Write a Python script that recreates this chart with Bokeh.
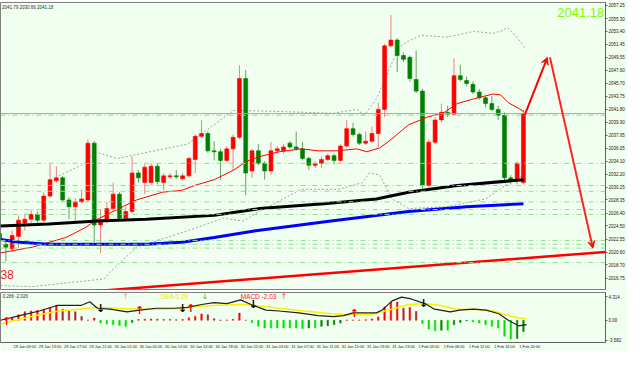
from bokeh.plotting import figure
from bokeh.layouts import column
from bokeh.models import Range1d, FixedTicker, Label, Span, Arrow, VeeHead
from bokeh.embed import file_html
from bokeh.resources import INLINE
from bokeh.core.properties import value

# ---------------- data ----------------
bars = list(range(-2, 82))
opens = [2023.35, 2021.77, 2021.06, 2022.92, 2024.92, 2025.49, 2026.21, 2025.35, 2028.93, 2031.21,
         2031.64, 2028.35, 2027.35, 2028.07, 2028.35, 2036.79, 2024.63, 2025.21, 2027.07, 2029.21,
         2025.64, 2026.64, 2032.36, 2030.93, 2030.93, 2033.36, 2030.93, 2031.79, 2031.93, 2031.50,
         2031.93, 2034.36, 2037.80, 2038.22, 2035.65, 2035.51, 2034.22, 2035.94, 2037.65, 2046.38,
         2032.65, 2035.65, 2033.79, 2032.65, 2035.65, 2035.65, 2036.79, 2036.22, 2035.94, 2034.51,
         2033.50, 2033.79, 2034.36, 2034.93, 2034.22, 2036.36, 2038.94, 2038.08, 2036.79, 2037.08,
         2038.22, 2041.80, 2051.24, 2052.10, 2049.81, 2049.53, 2046.24, 2044.52, 2030.50, 2036.94,
         2040.23, 2041.37, 2041.09, 2046.81, 2046.09, 2045.52, 2044.38, 2043.52, 2042.66, 2041.80,
         2040.94, 2031.64, 2031.21, 2030.93]
highs = [2023.78, 2022.34, 2023.78, 2026.06, 2026.35, 2026.92, 2026.64, 2029.50, 2033.65, 2033.36,
         2031.93, 2028.78, 2028.64, 2029.93, 2037.37, 2037.08, 2026.92, 2028.07, 2030.93, 2029.50,
         2027.35, 2034.79, 2032.79, 2033.79, 2033.79, 2033.79, 2032.36, 2032.36, 2032.79, 2032.36,
         2034.79, 2038.08, 2040.23, 2038.51, 2037.08, 2035.94, 2036.36, 2038.08, 2048.38, 2047.67,
         2035.94, 2036.65, 2034.08, 2036.94, 2036.36, 2036.65, 2037.08, 2038.51, 2036.94, 2034.79,
         2034.08, 2034.79, 2035.22, 2035.22, 2036.65, 2040.23, 2039.80, 2038.37, 2038.51, 2039.23,
         2042.80, 2051.53, 2055.82, 2052.39, 2050.24, 2049.81, 2050.53, 2044.81, 2037.37, 2040.66,
         2042.66, 2042.37, 2049.38, 2048.38, 2046.67, 2045.95, 2044.81, 2043.80, 2043.80, 2042.37,
         2041.37, 2032.07, 2034.08, 2041.79]
lows = [2022.06, 2019.20, 2020.63, 2021.20, 2023.78, 2024.92, 2024.63, 2024.92, 2028.64, 2030.93,
        2028.07, 2025.49, 2025.21, 2027.78, 2028.07, 2022.06, 2020.49, 2024.92, 2026.78, 2025.21,
        2025.21, 2026.35, 2030.93, 2029.21, 2030.50, 2030.64, 2029.78, 2031.50, 2031.50, 2031.21,
        2031.64, 2032.36, 2037.51, 2035.36, 2034.22, 2031.36, 2033.93, 2032.79, 2037.37, 2029.07,
        2031.64, 2033.50, 2031.36, 2032.07, 2035.36, 2035.22, 2035.94, 2035.65, 2034.22, 2032.79,
        2033.07, 2033.07, 2034.08, 2033.65, 2033.93, 2036.08, 2037.80, 2036.51, 2036.51, 2036.79,
        2036.22, 2040.66, 2050.96, 2047.38, 2048.81, 2045.95, 2044.23, 2030.07, 2030.21, 2036.65,
        2039.80, 2040.66, 2040.94, 2045.95, 2045.23, 2044.09, 2043.23, 2042.09, 2041.52, 2040.23,
        2030.93, 2030.64, 2030.64, 2030.66]
closes = [2022.63, 2021.34, 2023.06, 2025.35, 2025.49, 2026.21, 2025.35, 2028.93, 2031.36, 2031.64,
          2028.35, 2027.35, 2028.07, 2028.50, 2036.79, 2024.63, 2025.35, 2027.07, 2029.21, 2025.64,
          2026.64, 2032.36, 2031.64, 2033.22, 2033.36, 2031.07, 2031.93, 2031.93, 2031.79, 2031.93,
          2034.51, 2037.80, 2038.22, 2035.65, 2035.51, 2034.22, 2035.94, 2037.65, 2046.38, 2032.36,
          2035.65, 2033.79, 2032.65, 2035.65, 2035.94, 2036.22, 2036.22, 2035.94, 2034.51, 2033.50,
          2033.79, 2034.36, 2034.93, 2034.22, 2036.36, 2038.94, 2038.08, 2036.79, 2037.08, 2038.22,
          2041.80, 2051.24, 2052.10, 2049.81, 2049.24, 2046.38, 2044.52, 2030.50, 2036.94, 2040.23,
          2041.37, 2041.09, 2046.81, 2046.24, 2045.66, 2044.38, 2043.52, 2042.66, 2041.80, 2040.94,
          2031.64, 2031.21, 2033.79, 2041.18]

ma_red_x = [-1.85, 3.2, 8.5, 11.5, 13.5, 16.6, 19.7, 23.8, 26.9, 28.9, 32.0, 35.1, 37.1, 39.2, 42.3,
            45.8, 48.5, 51.5, 54.6, 56.2, 58.2, 59.7, 62.8, 65.8, 68.5, 70.5, 73.1, 76.2, 77.4, 78.6,
            80.8, 81.0]
ma_red_y = [2020.49, 2021.34, 2022.77, 2024.20, 2025.49, 2026.92, 2028.35, 2029.50, 2029.78, 2030.50,
            2031.36, 2032.79, 2034.08, 2034.79, 2035.51, 2035.94, 2035.65, 2035.65, 2035.94, 2035.51,
            2036.08, 2037.08, 2039.51, 2040.66, 2041.37, 2042.66, 2043.37, 2044.09, 2043.95, 2042.80,
            2041.66, 2041.40]
ma_black_x = [-1.85, 5.8, 13.5, 21.2, 32.0, 39.2, 49.4, 57.7, 62.8, 70.5, 81.0]
ma_black_y = [2024.49, 2024.78, 2025.21, 2025.49, 2026.06, 2027.07, 2027.78, 2028.50, 2029.50,
              2030.50, 2031.36]
ma_blue_x = [-1.85, 1.2, 5.8, 21.2, 26.9, 32.0, 38.6, 50.5, 62.8, 72.0, 81.0]
ma_blue_y = [2022.49, 2022.06, 2021.77, 2021.77, 2022.06, 2022.77, 2023.78, 2025.21, 2026.64,
             2027.35, 2027.78]
bb_up_x = [7.4, 11.5, 13.1, 16.6, 27.8, 35.1, 41.2, 50.9, 54.6, 55.8, 57.7, 59.7, 61.2, 62.8, 64.8,
           68.9, 73.1, 76.2, 77.7, 78.5, 79.7, 81.2]
bb_up_y = [2031.93, 2033.79, 2035.51, 2034.51, 2036.65, 2041.66, 2041.52, 2041.23, 2041.80, 2040.94,
           2043.37, 2047.67, 2050.96, 2051.96, 2052.81, 2052.53, 2053.39, 2053.10, 2053.53, 2053.96,
           2052.81, 2050.96]
bb_lo_x = [-1.85, 3.2, 14.6, 15.5, 19.7, 27.8, 33.5, 36.6, 39.2, 45.8, 51.8, 55.5, 56.6, 58.2, 60.2,
           62.8, 68.9, 75.0, 79.7, 81.2]
bb_lo_y = [2015.62, 2015.48, 2016.62, 2017.62, 2021.34, 2023.78, 2025.64, 2025.21, 2026.64, 2029.93,
           2029.93, 2030.93, 2032.36, 2032.07, 2028.50, 2027.07, 2027.35, 2028.50, 2031.50, 2032.00]
support_levels = [2040.94, 2033.79, 2030.50, 2029.64, 2028.07, 2026.92, 2026.21, 2022.34, 2021.77,
                  2021.20, 2019.05]
trend_x = [12.5, 94.0]
trend_y = [2014.76, 2020.63]
up_arrow = (81.2, 2040.94, 84.8, 2049.53)
down_arrow = (85.2, 2049.53, 92.0, 2021.20)
last_price = 2041.18

price_ticks = [2057.25, 2055.30, 2053.40, 2051.45, 2049.55, 2047.60, 2045.70, 2043.75, 2041.80,
               2039.90, 2037.95, 2036.05, 2034.10, 2032.20, 2030.25, 2028.35, 2026.40, 2024.50,
               2022.55, 2020.60, 2018.70, 2016.75, 2014.85]
time_tick_bars = [0, 4, 8, 12, 16, 20, 24, 28, 32, 36, 40, 44, 48, 52, 56, 60, 64, 68, 72, 76, 80]
time_labels = ["29 Jan 09:00", "29 Jan 13:00", "29 Jan 17:00", "29 Jan 21:00", "30 Jan 01:00",
               "30 Jan 05:00", "30 Jan 10:00", "30 Jan 14:00", "30 Jan 18:00", "30 Jan 22:00",
               "31 Jan 03:00", "31 Jan 07:00", "31 Jan 11:00", "31 Jan 15:00", "31 Jan 19:00",
               "31 Jan 23:00", "1 Feb 03:00", "1 Feb 08:00", "1 Feb 12:00", "1 Feb 16:00",
               "1 Feb 20:00"]

macd_bars = list(range(-1, 82))
macd_hist = [0.2, 0.5, 1.0, 1.55, 1.7, 1.8, 2.0, 2.3, 2.7, 2.0, 1.7, 1.55, 0.7, 0.05, 0.4,
             -0.5, -0.67, -0.8, -0.95, -1.15, -0.4, 0.15, 0.2, 0.25, 0.2, 0.15, 0.15, 0.1, 0.15,
             0.45, 0.7, 1.15, 1.0, 0.3, 0.05, 0.05, 0.2, 1.3, 0.0, -0.45, -1.1, -1.4, -1.4, -1.4,
             -1.4, -1.4, -1.4, -1.5, -1.4, -1.4, -1.1, -1.0, -0.8, -0.5, 0.05, 0.05, 0.05, 0.1,
             0.25, 0.6, 2.4, 3.3, 3.3, 2.2, 2.3, 1.6, -0.6, -1.6, -1.9, -1.8, -1.8, -0.8, -0.4,
             -0.1, -0.3, -0.5, -0.8, -1.1, -1.4, -2.9, -3.4, -3.3, -2.03]
dif_x = [-1.85, 1.2, 4.3, 7.1, 8.9, 10.9, 12.3, 13.5, 15.5, 18.2, 20.2, 22.8, 25.8, 27.8, 30.0, 32.0,
         34.0, 36.2, 38.2, 40.2, 42.3, 45.4, 48.5, 50.9, 52.5, 54.0, 56.2, 57.7, 58.6, 60.2, 61.7,
         63.2, 65.4, 66.9, 69.4, 70.9, 73.1, 75.1, 77.1, 78.6, 80.2, 81.5]
dif_y = [0.0, 0.84, 1.68, 2.69, 2.69, 2.69, 3.36, 2.18, 2.02, 1.51, 1.85, 2.18, 2.18, 2.35, 2.86,
         3.19, 3.03, 3.70, 2.69, 1.85, 1.68, 1.34, 0.84, 0.67, 0.84, 1.34, 1.34, 1.34, 1.85, 3.53,
         4.20, 3.87, 3.03, 2.02, 1.51, 1.85, 2.02, 1.85, 1.18, 0.0, -1.0, -0.8]
dea_x = [-1.85, 1.2, 4.3, 7.4, 10.5, 13.5, 16.6, 20.2, 23.8, 26.9, 28.9, 32.0, 36.2, 38.6, 42.3,
         46.3, 50.5, 53.5, 56.6, 59.7, 62.8, 65.4, 67.8, 70.5, 73.1, 76.2, 78.2, 80.2, 81.5]
dea_y = [-0.67, 0.17, 1.01, 1.68, 2.02, 2.35, 2.18, 2.02, 2.02, 2.18, 2.52, 2.69, 2.86, 2.69, 2.18,
         1.68, 1.18, 1.01, 1.01, 1.85, 2.86, 3.03, 2.69, 2.02, 2.02, 1.68, 1.01, 0.40, 0.29]
cross_x = [-0.9, 14.0, 20.2, 27.0, 28.3, 38.2, 54.2, 65.2]
cross_y = [-0.3, 2.2, 1.85, 2.2, 2.2, 2.9, 1.2, 3.0]
cross_dir = ["up", "down", "up", "down", "up", "down", "up", "down"]
macd_ticks = [4.314, 0.0, -3.582]

# ---------------- style ----------------
BG = "#F0FFF0"
FONT = "Liberation Sans"
xr = Range1d(-1.85, 94.0)

p = figure(width=627, height=290, x_range=xr, y_range=Range1d(2015.05, 2057.68),
           output_backend="svg", toolbar_location=None, x_axis_location=None,
           y_axis_location="right", min_border_left=0, min_border_right=22,
           min_border_top=2, min_border_bottom=1)
p.background_fill_color = BG
p.border_fill_color = BG
p.outline_line_color = "#808080"
p.grid.visible = False
p.yaxis.ticker = FixedTicker(ticks=price_ticks)
p.yaxis.major_label_overrides = {t: f"{t:.2f}" for t in price_ticks}
p.yaxis.major_label_text_font_size = "4.5px"
p.yaxis.major_label_text_font = FONT
p.yaxis.major_label_text_color = "#202020"
p.yaxis.major_tick_out = 2
p.yaxis.major_tick_in = 0
p.yaxis.minor_tick_out = 0
p.yaxis.minor_tick_in = 0
p.yaxis.major_label_standoff = 1
p.yaxis.axis_line_color = "#606060"
p.yaxis.major_tick_line_color = "#606060"

for lv in support_levels:
    p.add_layout(Span(location=lv, dimension="width", line_color="#8BE08B",
                      line_dash="5 3 1 3", line_width=1))
p.add_layout(Span(location=last_price, dimension="width", line_color="#A8A8A8", line_width=1))

p.line(bb_up_x, bb_up_y, line_color="#A0A0A0", line_dash="2 2", line_width=1)
p.line(bb_lo_x, bb_lo_y, line_color="#A0A0A0", line_dash="2 2", line_width=1)

up = [c >= o for o, c in zip(opens, closes)]
body_top = [max(o, c) for o, c in zip(opens, closes)]
body_bot = [min(o, c) for o, c in zip(opens, closes)]
wick_col = ["#F08080" if u else "#5FA55F" for u in up]
body_col = ["#FF0000" if u else "#008000" for u in up]
p.segment(bars, highs, bars, lows, line_color=wick_col, line_width=1)
p.vbar(x=bars, top=body_top, bottom=body_bot, width=0.62, fill_color=body_col,
       line_color=body_col, line_width=0.6)

p.line(ma_red_x, ma_red_y, line_color="#FF0000", line_width=1)
p.line(ma_blue_x, ma_blue_y, line_color="#0000FF", line_width=3)
p.line(ma_black_x, ma_black_y, line_color="#000000", line_width=3)
p.line(trend_x, trend_y, line_color="#FF0000", line_width=2.5)

p.add_layout(Arrow(end=VeeHead(size=7, fill_color="#FF0000", line_color="#FF0000"),
                   x_start=up_arrow[0], y_start=up_arrow[1], x_end=up_arrow[2], y_end=up_arrow[3],
                   line_color="#FF0000", line_width=2))
p.add_layout(Arrow(end=VeeHead(size=7, fill_color="#FF0000", line_color="#FF0000"),
                   x_start=down_arrow[0], y_start=down_arrow[1], x_end=down_arrow[2],
                   y_end=down_arrow[3], line_color="#FF2020", line_width=2))

p.add_layout(Label(x=-1.6, y=2057.0, text="2041.79 2030.66 2041.18", text_font_size="4.5px",
                   text_font=FONT, text_color="#303030", text_baseline="middle"))
p.add_layout(Label(x=93.8, y=2056.2, text=f"{last_price:.2f}", text_font_size="13px",
                   text_font=FONT, text_color="#7CFC00", text_align="right",
                   text_baseline="middle"))
p.add_layout(Label(x=-1.85, y=2017.3, text="38", text_font_size="12px", text_font=FONT,
                   text_color="#FF2020", text_baseline="middle"))
p.add_layout(Label(x=94.05, y=last_price, text=f"{last_price:.2f}", text_font_size="4.5px",
                   text_font=FONT, text_color="white", background_fill_color="black",
                   text_baseline="middle", x_offset=1))

# ---------------- MACD panel ----------------
q = figure(width=627, height=61, x_range=xr, y_range=Range1d(-4.03, 5.04),
           output_backend="svg", toolbar_location=None, y_axis_location="right",
           min_border_left=0, min_border_right=22, min_border_top=2, min_border_bottom=0)
q.background_fill_color = BG
q.border_fill_color = BG
q.outline_line_color = "#808080"
q.grid.visible = False
q.yaxis.ticker = FixedTicker(ticks=macd_ticks)
q.yaxis.major_label_overrides = {4.314: "4.314", 0.0: "0.00", -3.582: "-3.582"}
for ax in (q.yaxis[0], q.xaxis[0]):
    ax.major_label_text_font_size = "4.5px"
    ax.major_label_text_font = FONT
    ax.major_label_text_color = "#202020"
    ax.major_tick_out = 2
    ax.major_tick_in = 0
    ax.minor_tick_out = 0
    ax.minor_tick_in = 0
    ax.major_label_standoff = 1
    ax.axis_line_color = "#606060"
    ax.major_tick_line_color = "#606060"
q.xaxis.ticker = FixedTicker(ticks=[b + 2 for b in time_tick_bars])
q.xaxis.major_label_overrides = {b + 2: t for b, t in zip(time_tick_bars, time_labels)}
q.xaxis.major_label_text_font_size = "3.9px"
q.xaxis.major_tick_out = 0

hist_col = []
for i, h in enumerate(macd_hist):
    prev = macd_hist[i - 1] if i > 0 else 0.0
    if h >= 0:
        hist_col.append("#FF0000" if h >= prev else "#A52A2A")
    else:
        hist_col.append("#00E000" if h <= prev else "#008000")
q.vbar(x=macd_bars, top=macd_hist, bottom=0, width=0.24, fill_color=hist_col, line_color=hist_col,
       line_width=0.5)
q.line(dea_x, dea_y, line_color="#FFEE00", line_width=1.5)
q.line(dif_x, dif_y, line_color="#202020", line_width=1.2)

cx_up = [x for x, d in zip(cross_x, cross_dir) if d == "up"]
cy_up = [y for y, d in zip(cross_y, cross_dir) if d == "up"]
cx_dn = [x for x, d in zip(cross_x, cross_dir) if d == "down"]
cy_dn = [y for y, d in zip(cross_y, cross_dir) if d == "down"]
q.text(cx_up, cy_up, text=["\u2191"] * len(cx_up), text_color="#FF0000", text_font_size="11px",
       text_font=value("DejaVu Sans"), text_font_style="bold", text_align="center",
       text_baseline="middle")
q.text(cx_dn, cy_dn, text=["\u2193"] * len(cx_dn), text_color="#000000", text_font_size="11px",
       text_font=value("DejaVu Sans"), text_font_style="bold", text_align="center",
       text_baseline="middle")

q.add_layout(Label(x=-1.5, y=4.4, text="0.286 -2.026", text_font_size="4.5px", text_font=FONT,
                   text_color="#303030", text_baseline="middle"))
q.add_layout(Label(x=17.4, y=4.4, text="\u2191", text_font_size="8px", text_font="DejaVu Sans",
                   text_color="#F4A0A0", text_baseline="middle"))
q.add_layout(Label(x=23.5, y=4.4, text="DEA  0.29", text_font_size="6.5px", text_font=FONT,
                   text_color="#E8E800", text_baseline="middle"))
q.add_layout(Label(x=30.0, y=4.4, text="\u2193", text_font_size="8px", text_font="DejaVu Sans",
                   text_color="#30C030", text_baseline="middle"))
q.add_layout(Label(x=36.2, y=4.4, text="MACD  -2.03", text_font_size="6.5px", text_font=FONT,
                   text_color="#FF2020", text_baseline="middle"))
q.add_layout(Label(x=42.5, y=4.4, text="\u2191", text_font_size="8px", text_font="DejaVu Sans",
                   text_color="#FF4040", text_baseline="middle"))

layout = column(p, q, spacing=0)
open("out.html", "w").write(file_html(layout, INLINE))
